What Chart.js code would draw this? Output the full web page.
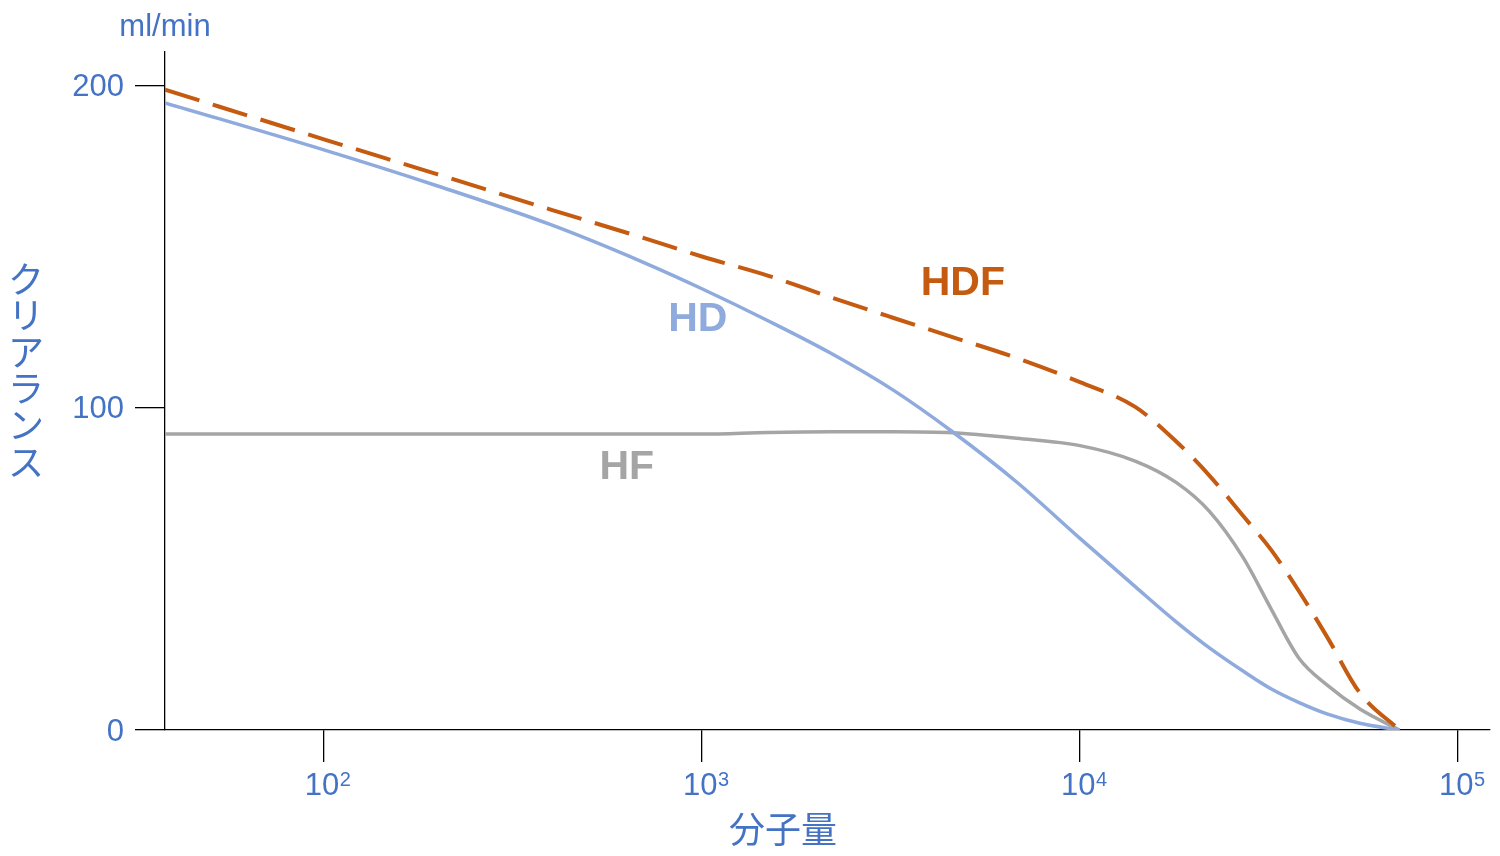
<!DOCTYPE html>
<html>
<head>
<meta charset="utf-8">
<script src="https://cdn.jsdelivr.net/npm/chart.js@4.4.1/dist/chart.umd.min.js"></script>
<style>
  html, body { margin: 0; padding: 0; background: #fff; }
  #wrap { width: 1500px; height: 856px; }
</style>
</head>
<body>
<div id="wrap"><canvas id="myChart" width="1500" height="856"></canvas></div>
<script>
// 分子量 (log scale) and clearance readings
const molWeight = [38, 100, 200, 400, 700, 1000, 1500, 2200, 3200, 4600, 6800, 10000, 14000, 18000, 22000, 27000, 32000, 38000, 45000, 55000, 70000];
const hdClearance = [194.7, 180.1, 168.9, 156.8, 145.2, 137.0, 127.0, 116.9, 105.6, 92.6, 77, 59.5, 44.5, 33.5, 25.5, 18.3, 12.8, 8.5, 5, 2.1, 0];
const hfClearance = [91.9, 91.9, 91.9, 91.9, 91.9, 91.9, 92.4, 92.6, 92.6, 92.3, 90.6, 88.3, 83.5, 76.8, 67.9, 53.6, 37.7, 22.2, 14, 6.5, 0];
const hdfClearance = [198.8, 183.4, 172.5, 161.5, 152.8, 147, 141, 134.3, 128, 122, 115.5, 108, 100.3, 89.5, 79, 66.5, 56, 43, 29, 11.5, 0];

const xTicks = [100, 1000, 10000, 100000];
const xTickExp = ["2", "3", "4", "5"];
const yTicks = [0, 100, 200];

const blueText = "#4472c4";
const latin = "'Liberation Sans', Arial, sans-serif";
const cjk = "'Noto Sans CJK JP', sans-serif";

function toPoints(ys) {
  return molWeight.map((x, i) => ({ x: x, y: ys[i] }));
}

// tick labels, series labels and axis titles
const textPlugin = {
  id: "texts",
  afterDraw(chart) {
    const c = chart.ctx;
    const xs = chart.scales.x;
    const ys = chart.scales.y;
    c.save();

    // y tick labels
    c.fillStyle = blueText;
    c.font = "31px " + latin;
    c.textAlign = "right";
    c.textBaseline = "middle";
    yTicks.forEach((v) => {
      c.fillText(String(v), 124, ys.getPixelForValue(v) + 2);
    });

    // x tick labels: 10 with superscript exponent
    c.textAlign = "left";
    c.textBaseline = "alphabetic";
    xTicks.forEach((v, i) => {
      const px = xs.getPixelForValue(v);
      c.font = "31px " + latin;
      c.fillText("10", px - 19, 795);
      c.font = "20px " + latin;
      c.fillText(xTickExp[i], px + 16, 786);
    });

    c.textAlign = "center";
    c.textBaseline = "middle";
    const labels = [
      { text: "HD", x: 975, y: 127.3, color: "#8faadc" },
      { text: "HF", x: 633, y: 81.4, color: "#a5a5a5" },
      { text: "HDF", x: 4900, y: 138.5, color: "#c55a11" },
    ];
    c.font = "bold 41px " + latin;
    labels.forEach((l) => {
      c.fillStyle = l.color;
      c.fillText(l.text, xs.getPixelForValue(l.x), ys.getPixelForValue(l.y));
    });

    c.fillStyle = blueText;
    c.font = "31px " + latin;
    c.fillText("ml/min", 165, 27);

    c.font = "36px " + cjk;
    c.fillText("分子量", 783, 829);

    const yTitle = "クリアランス";
    for (let i = 0; i < yTitle.length; i++) {
      c.fillText(yTitle[i], 26, 279 + i * 36.6);
    }
    c.restore();
  },
};

const ctx = document.getElementById("myChart");

const chart = new Chart(ctx, {
  type: "line",
  data: {
    datasets: [
      {
        label: "HDF",
        data: toPoints(hdfClearance),
        borderColor: "#c55a11",
        borderWidth: 4,
        borderDash: [36, 14],
      },
      {
        label: "HD",
        data: toPoints(hdClearance),
        borderColor: "#8faadc",
        borderWidth: 3.5,
      },
      {
        label: "HF",
        data: toPoints(hfClearance),
        borderColor: "#a5a5a5",
        borderWidth: 3.5,
      },
    ],
  },
  options: {
    responsive: false,
    animation: false,
    elements: {
      point: { radius: 0 },
      line: { cubicInterpolationMode: "monotone", fill: false },
    },
    layout: {
      padding: { top: 52, right: 10, left: 0, bottom: 0 },
    },
    scales: {
      x: {
        type: "logarithmic",
        min: 38,
        max: 121500,
        afterBuildTicks(scale) {
          scale.ticks = xTicks.map((v) => ({ value: v }));
        },
        afterFit(scale) {
          scale.height = 126;
        },
        grid: {
          drawOnChartArea: false,
          drawTicks: true,
          tickLength: 32,
          color: "#000",
          lineWidth: 1.3,
        },
        border: { display: true, color: "#000", width: 1.3 },
        ticks: { display: false },
      },
      y: {
        type: "linear",
        min: 0,
        max: 210.5,
        afterBuildTicks(scale) {
          scale.ticks = yTicks.map((v) => ({ value: v }));
        },
        afterFit(scale) {
          scale.width = 165;
        },
        grid: {
          drawOnChartArea: false,
          drawTicks: true,
          tickLength: 30,
          color: "#000",
          lineWidth: 1.3,
        },
        border: { display: true, color: "#000", width: 1.3 },
        ticks: { display: false },
      },
    },
    plugins: {
      legend: { display: false },
      tooltip: { enabled: false },
    },
  },
  plugins: [textPlugin],
});
</script>
</body>
</html>
